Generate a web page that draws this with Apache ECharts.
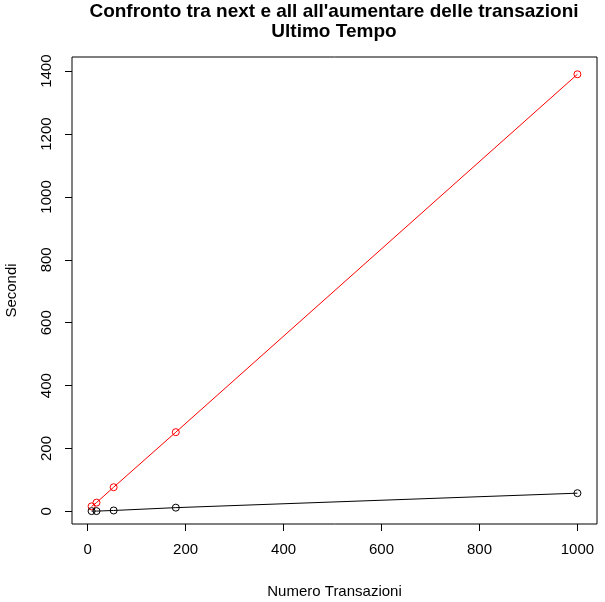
<!DOCTYPE html>
<html>
<head>
<meta charset="utf-8">
<script src="https://cdn.jsdelivr.net/npm/echarts@6/dist/echarts.min.js"></script>
<style>
html,body{margin:0;padding:0;background:#fff;}
#main{width:605px;height:602px;}
</style>
</head>
<body>
<div id="main"></div>
<script>
// dati
var transazioni = [8, 18, 53, 180, 1000];
var tempoAll = [16, 28, 77, 252, 1390];
var tempoNext = [1, 1, 3, 12, 58];
var xTicks = [0, 200, 400, 600, 800, 1000];
var yTicks = [0, 200, 400, 600, 800, 1000, 1200, 1400];

function coppie(xs, ys){
    var out = [];
    for(var i=0;i<xs.length;i++){
        out.push([xs[i], ys[i]]);
    }
    return out;
}

var font = 'Liberation Sans';
var myChart = echarts.init(document.getElementById('main'));
var option = {
    animation: false,
    backgroundColor: '#fff',
    graphic: [{
        type: 'text',
        x: 334,
        y: 2,
        style: {
            text: "Confronto tra next e all all'aumentare delle transazioni\nUltimo Tempo",
            textAlign: 'center',
            font: 'bold 19px "' + font + '"',
            lineHeight: 20,
            fill: '#000'
        }
    }],
    grid: {
        left: 72,
        right: 8,
        top: 57,
        bottom: 78,
        outerBoundsMode: 'none',
        containLabel: false,
        show: true,
        borderColor: '#000',
        borderWidth: 1,
        backgroundColor: 'transparent'
    },
    xAxis: {
        type: 'value',
        min: -32,
        max: 1040,
        name: 'Numero Transazioni',
        nameLocation: 'middle',
        nameGap: 60,
        nameTextStyle: {fontFamily: font, fontSize: 15, color: '#000'},
        axisLine: {show: false, onZero: false},
        splitLine: {show: false},
        axisTick: {show: true, inside: false, length: 7, customValues: xTicks, lineStyle: {color: '#000'}},
        axisLabel: {customValues: xTicks, margin: 18, fontFamily: font, fontSize: 15, color: '#000',
            formatter: function(v){ return String(v); }}
    },
    yAxis: {
        type: 'value',
        min: -40,
        max: 1445,
        name: 'Secondi',
        nameLocation: 'middle',
        nameGap: 53,
        nameTextStyle: {fontFamily: font, fontSize: 15, color: '#000'},
        axisLine: {show: false, onZero: false},
        splitLine: {show: false},
        axisTick: {show: true, inside: false, length: 7, customValues: yTicks, lineStyle: {color: '#000'}},
        axisLabel: {customValues: yTicks, rotate: 90, margin: 18, fontFamily: font, fontSize: 15, color: '#000',
            formatter: function(v){ return String(v); }}
    },
    series: [{
        name: 'all',
        type: 'line',
        data: coppie(transazioni, tempoAll),
        symbol: 'circle',
        symbolSize: 7,
        itemStyle: {color: 'rgba(0,0,0,0)', borderColor: '#ff0000', borderWidth: 1},
        lineStyle: {color: '#ff0000', width: 1}
    }, {
        name: 'next',
        type: 'line',
        data: coppie(transazioni, tempoNext),
        symbol: 'circle',
        symbolSize: 7,
        itemStyle: {color: 'rgba(0,0,0,0)', borderColor: '#000', borderWidth: 1},
        lineStyle: {color: '#000', width: 1}
    }]
};
myChart.setOption(option);
</script>
</body>
</html>
